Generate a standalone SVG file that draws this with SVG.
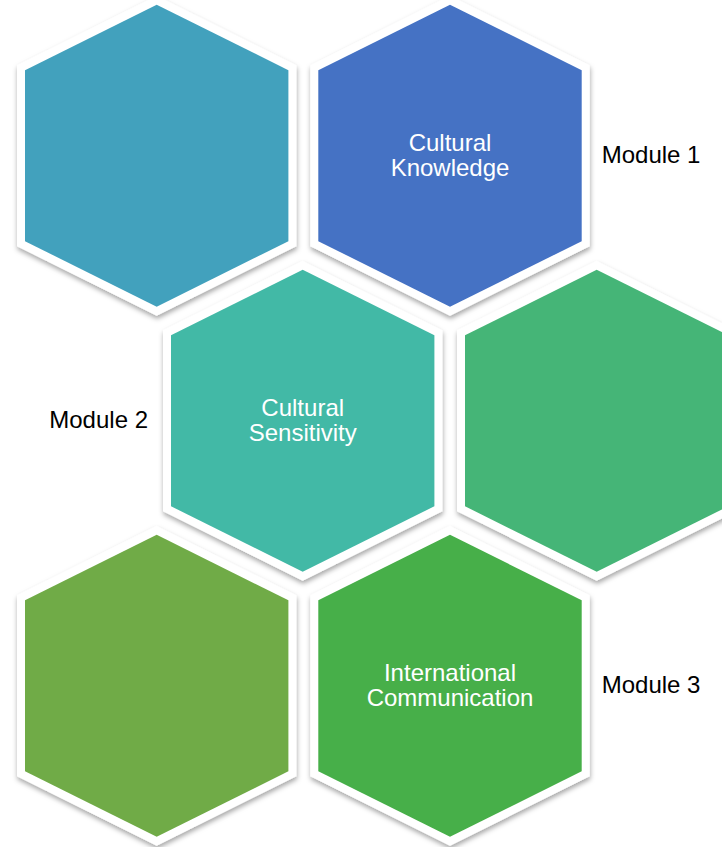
<svg xmlns="http://www.w3.org/2000/svg" xmlns:xlink="http://www.w3.org/1999/xlink" width="722" height="847" viewBox="0 0 722 847">
<style>
.hex{stroke:#ffffff;stroke-width:16;stroke-linejoin:miter;paint-order:stroke;filter:url(#sh)}
.lbl{font-family:"Liberation Sans",Arial,sans-serif;font-size:24px;fill:#ffffff;text-anchor:middle}
.mod{font-family:"Liberation Sans",Arial,sans-serif;font-size:24px;fill:#000000}
</style>
<defs>
<filter id="sh" x="-20%" y="-20%" width="140%" height="140%">
<feDropShadow dx="0.5" dy="3" stdDeviation="2.5" flood-color="#000" flood-opacity="0.35"/>
</filter>
<polygon id="hx" points="0,-151 131.7,-85.5 131.7,85.5 0,151 -131.7,85.5 -131.7,-85.5"/>
</defs>
<rect width="722" height="847" fill="#ffffff"/>
<g id="connectors"/>
<g id="hex1" transform="translate(156.7,155.7)">
<use xlink:href="#hx" class="hex" fill="#43A1BD"/>
</g>
<g id="hex2" transform="translate(450,155.7)">
<use xlink:href="#hx" class="hex" fill="#4472C4"/>
<text class="lbl" x="0" y="-5">Cultural</text>
<text class="lbl" x="0" y="20">Knowledge</text>
</g>
<g id="hex3" transform="translate(302.7,420.8)">
<use xlink:href="#hx" class="hex" fill="#43B9A6"/>
<text class="lbl" x="0" y="-5">Cultural</text>
<text class="lbl" x="0" y="20.5">Sensitivity</text>
</g>
<g id="hex4" transform="translate(596.7,420.8)">
<use xlink:href="#hx" class="hex" fill="#45B577"/>
</g>
<g id="hex5" transform="translate(156.7,685.8)">
<use xlink:href="#hx" class="hex" fill="#70AB47"/>
</g>
<g id="hex6" transform="translate(450,685.8)">
<use xlink:href="#hx" class="hex" fill="#47AF48"/>
<text class="lbl" x="0" y="-5">International</text>
<text class="lbl" x="0" y="20.5">Communication</text>
</g>
<g id="labels">
<text class="mod" x="601.7" y="163.3">Module 1</text>
<text class="mod" x="148" y="428.4" text-anchor="end">Module 2</text>
<text class="mod" x="601.7" y="693.4">Module 3</text>
</g>
</svg>
